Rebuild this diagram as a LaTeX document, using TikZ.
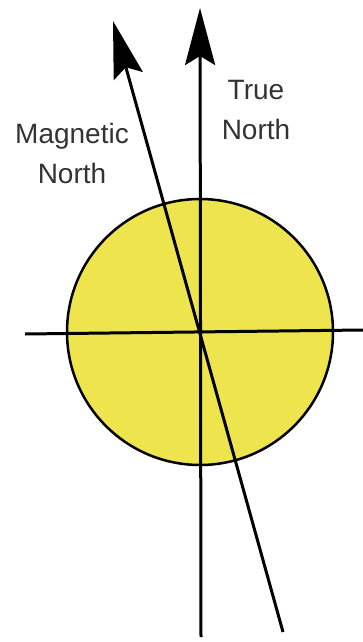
\documentclass[tikz,border=0pt]{standalone}
\usepackage{fontspec}
\usetikzlibrary{arrows.meta}
\newfontfamily\labelfont{Liberation Sans}
\definecolor{discyellow}{RGB}{237,228,78}

\tikzset{
    heading/.style={line width=3pt, -{Stealth[length=57pt, width=30pt, inset=9pt]}},
    axisline/.style={line width=3pt},
    compasslabel/.style={font=\labelfont\fontsize{28}{40}\selectfont, text=black!80, align=center, inner sep=0pt}
}

\begin{document}
\begin{tikzpicture}[x=1pt, y=-1pt]
        \useasboundingbox (0,0) rectangle (363,642);

        % Yellow disc
        \coordinate (centre) at (200,332);
        \draw[line width=2.5pt, fill=discyellow] (centre) circle[radius=133];

        % East-west line
        \coordinate (west) at (25,334);
        \coordinate (east) at (363,330);
        \draw[axisline] (west) -- (east);

        % True north and magnetic north
        \coordinate (truebottom) at (201,637);
        \coordinate (truetip) at (200,8);
        \draw[heading] (truebottom) -- (truetip);

        \coordinate (magbottom) at (283,632);
        \coordinate (magtip) at (113,21);
        \draw[heading] (magbottom) -- (magtip);

        % Labels
        \node[compasslabel] (truelabel) at (256,110) {True\\North};
        \node[compasslabel] (maglabel) at (72,153) {Magnetic\\North};
    \end{tikzpicture}
\end{document}
